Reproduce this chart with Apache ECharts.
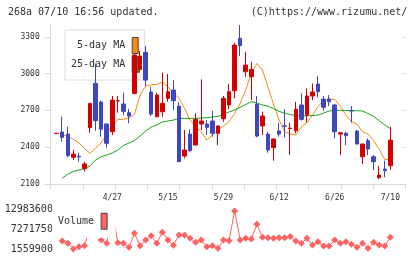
<!DOCTYPE html>
<html>
<head>
<meta charset="utf-8">
<script src="https://cdn.jsdelivr.net/npm/echarts@6/dist/echarts.min.js"></script>
<style>
  html, body { margin: 0; padding: 0; background: #fff; }
  #chart { width: 420px; height: 259px; }
</style>
</head>
<body>
<div id="chart"></div>
<script>
// trading days shown on the chart
const dates = [
  "4/14", "4/15", "4/16", "4/17", "4/18", "4/21", "4/22", "4/23", "4/24", "4/25",
  "4/27", "4/30", "5/1", "5/2", "5/7", "5/8", "5/9", "5/12", "5/13", "5/14",
  "5/15", "5/16", "5/19", "5/20", "5/21", "5/22", "5/23", "5/26", "5/27", "5/28",
  "5/29", "5/30", "6/2", "6/3", "6/4", "6/5", "6/6", "6/9", "6/10", "6/11",
  "6/12", "6/13", "6/16", "6/17", "6/18", "6/19", "6/20", "6/23", "6/24", "6/25",
  "6/26", "6/27", "6/30", "7/1", "7/2", "7/3", "7/4", "7/7", "7/8", "7/9",
  "7/10",
];
const opens = [
  2512, 2524, 2507, 2318, 2326, 2225, 2559, 2920, 2768, 2589,
  2526, 2776, 2752, 2681, 2839, 3034, 3173, 2850, 2648, 2689,
  2798, 2866, 2735, 2328, 2507, 2418, 2589, 2589, 2613, 2513,
  2632, 2744, 2860, 3287, 3015, 2974, 2749, 2573, 2507, 2396,
  2532, 2574, 2552, 2534, 2744, 2662, 2817, 2915, 2792, 2792,
  2744, 2507, 2513, 2699, 2532, 2322, 2453, 2322, 2151, 2222,
  2249,
];
const closes = [
  2513, 2480, 2331, 2344, 2320, 2263, 2757, 2616, 2546, 2432,
  2784, 2779, 2692, 2654, 3151, 3143, 2947, 2670, 2825, 2757,
  2852, 2779, 2282, 2377, 2371, 2627, 2613, 2562, 2513, 2573,
  2798, 2852, 3232, 3227, 3069, 3034, 2491, 2654, 2377, 2467,
  2507, 2571, 2555, 2709, 2627, 2817, 2850, 2852, 2725, 2770,
  2526, 2518, 2494, 2696, 2426, 2426, 2385, 2282, 2173, 2208,
  2458,
];
const lows = [
  2512, 2445, 2318, 2296, 2282, 2200, 2518, 2534, 2485, 2396,
  2499, 2681, 2662, 2595, 2830, 3007, 2898, 2654, 2645, 2648,
  2770, 2703, 2280, 2309, 2363, 2410, 2540, 2499, 2485, 2418,
  2608, 2709, 2798, 3143, 2974, 2784, 2480, 2499, 2355, 2290,
  2485, 2480, 2336, 2513, 2616, 2599, 2784, 2806, 2697, 2735,
  2472, 2336, 2418, 2599, 2424, 2263, 2336, 2214, 2141, 2155,
  2214,
];
const highs = [
  2513, 2648, 2567, 2377, 2355, 2282, 2760, 3083, 2780, 2595,
  2817, 2817, 2844, 2711, 3160, 3186, 3224, 2893, 2844, 3007,
  2996, 2947, 2770, 2540, 2546, 2676, 2953, 2621, 2697, 2575,
  2817, 2915, 3251, 3395, 3178, 3096, 2817, 2689, 2526, 2472,
  2599, 2709, 2599, 2770, 2839, 2880, 2920, 2980, 2817, 2825,
  2752, 2520, 2526, 2735, 2540, 2428, 2472, 2336, 2249, 2290,
  2567,
];
const ma5 = [
  null, 2499, 2491, 2463, 2436, 2389, 2350, 2393, 2434, 2507,
  2581, 2625, 2627, 2638, 2670, 2825, 2898, 2907, 2912, 2931,
  2893, 2839, 2798, 2717, 2621, 2567, 2526, 2458, 2499, 2540,
  2573, 2608, 2676, 2757, 2866, 3002, 3083, 3029, 2890, 2752,
  2621, 2526, 2507, 2499, 2567, 2599, 2662, 2730, 2784, 2792,
  2790, 2735, 2662, 2608, 2589, 2526, 2507, 2453, 2383, 2301,
  2296,
];
const ma25 = [
  null, 2146, 2181, 2202, 2214, 2226, 2247, 2296, 2322, 2336,
  2353, 2377, 2414, 2434, 2454, 2491, 2532, 2564, 2581, 2605,
  2613, 2621, 2634, 2635, 2635, 2635, 2638, 2640, 2646, 2650,
  2670, 2687, 2703, 2725, 2748, 2770, 2760, 2744, 2735, 2715,
  2692, 2678, 2666, 2658, 2656, 2656, 2658, 2662, 2678, 2695,
  2700, 2700, 2699, 2697, 2697, 2695, 2674, 2650, 2617, 2581,
  2552,
];
const volumes = [
  null, 3912700, 3260700, 1645000, 2297000, 2580000, 7881000, 10500000, 4196000, 3260700,
  12400000, 3430800, 3260700, 2126800, 6095400, 2580000, 4196000, 5415000, 3260700, 6378800,
  4196000, 2693800, 5613500, 5613500, 4678000, 3544200, 4196000, 2297000, 2580000, 1843400,
  4196000, 3997700, 12416600, 4196000, 4678000, 4479600, 8646500, 4961500, 4848100, 4678000,
  4848100, 4848100, 5188300, 3912700, 3260700, 4678000, 2778800, 3714200, 2495300, 2495300,
  4196000, 3260700, 3714200, 2977200, 2126800, 3260700, 1843400, 3544200, 2778800, 2495300,
  4961500,
];
const priceTicks = [2100, 2400, 2700, 3000, 3300];
const volumeTicks = [1559900, 7271750, 12983600];

const MONO = "DejaVu Sans Mono";
const AXIS_GRAY = "#d9d9d9";
const UP = "#d40000";
const DOWN = "#3f47c0";

const chartInstance = echarts.init(document.getElementById("chart"), null, {
  renderer: "canvas",
});

const candles = opens.map((o, i) => [o, closes[i], lows[i], highs[i]]);

const option = {
  animation: false,
  backgroundColor: "#fff",
  title: [
    {
      text: "268a 07/10 16:56 updated.",
      left: 8,
      top: 7,
      padding: 0,
      textStyle: { fontFamily: MONO, fontSize: 10, fontWeight: "normal", color: "#333" },
    },
    {
      text: "(C)https://www.rizumu.net/",
      right: 12.7,
      top: 7,
      padding: 0,
      textStyle: { fontFamily: MONO, fontSize: 10, fontWeight: "normal", color: "#333" },
    },
  ],
  legend: [
    {
      z: 1,
      orient: "vertical",
      align: "right",
      left: 65,
      top: 30,
      padding: [7, 6, 7, 6],
      itemGap: 2,
      itemWidth: 6,
      itemHeight: 16,
      selectedMode: false,
      backgroundColor: "#fff",
      borderColor: "#ddd",
      borderWidth: 1,
      formatter: (name) => name.padStart(9),
      textStyle: { fontFamily: MONO, fontSize: 10, color: "#333", padding: [0, 2, 0, 0] },
      data: [
        { name: "5-day MA", icon: "rect", itemStyle: { color: "#f28c12", borderColor: "#444", borderWidth: 1 } },
        { name: "25-day MA", icon: "rect", itemStyle: { color: "#18a418", borderColor: "#444", borderWidth: 1 } },
      ],
    },
    {
      z: 10,
      orient: "vertical",
      align: "right",
      left: 52,
      top: 204.7,
      padding: [8, 8, 8, 6],
      itemWidth: 6,
      itemHeight: 16,
      selectedMode: false,
      backgroundColor: "#fff",
      textStyle: { fontFamily: MONO, fontSize: 10, color: "#333", padding: [0, 2, 0, 0] },
      data: [
        { name: "Volume", icon: "rect", itemStyle: { color: "#ff6262", borderColor: "#444", borderWidth: 1 } },
      ],
    },
  ],
  grid: [
    { left: 50.7, right: 14.7, top: 24.5, bottom: 75 }, // axis frame
    { left: 53.9, right: 26.9, top: 24.5, bottom: 75 }, // candles
    { left: 53.9, right: 26.9, top: 209, bottom: 9.7 }, // volume
  ],
  xAxis: [
    {
      gridIndex: 0,
      type: "value",
      min: 0,
      max: 11,
      interval: 1,
      axisLine: { show: true, lineStyle: { color: AXIS_GRAY } },
      axisTick: { show: true, length: 5, lineStyle: { color: AXIS_GRAY } },
      axisLabel: { show: false },
      splitLine: { show: false },
    },
    {
      gridIndex: 1,
      type: "category",
      data: dates,
      boundaryGap: true,
      axisLine: { show: false },
      axisTick: { show: false },
      axisLabel: {
        interval: (i) => i > 0 && i % 10 === 0,
        margin: 10,
        fontFamily: MONO,
        fontSize: 8,
        color: "#333",
      },
    },
    {
      gridIndex: 2,
      type: "category",
      data: dates,
      boundaryGap: true,
      show: false,
    },
  ],
  yAxis: [
    {
      gridIndex: 0,
      type: "value",
      min: 2100,
      max: 3400,
      axisLine: { show: true, lineStyle: { color: AXIS_GRAY } },
      axisTick: { show: true, length: 6, customValues: priceTicks, lineStyle: { color: AXIS_GRAY } },
      axisLabel: {
        customValues: priceTicks,
        margin: 11,
        fontFamily: MONO,
        fontSize: 8,
        color: "#333",
        formatter: (v) => String(v),
      },
      splitLine: { show: false },
    },
    {
      gridIndex: 0,
      type: "value",
      min: 2100,
      max: 3400,
      axisLine: { show: false },
      axisTick: { show: true, inside: true, length: 3, customValues: priceTicks, lineStyle: { color: AXIS_GRAY } },
      axisLabel: { show: false },
      splitLine: { show: false },
    },
    { gridIndex: 1, type: "value", min: 2100, max: 3400, show: false },
    {
      gridIndex: 2,
      type: "value",
      min: 1559900,
      max: 12983600,
      axisLine: { show: false },
      axisTick: { show: false },
      axisLabel: {
        customValues: volumeTicks,
        margin: 1,
        fontFamily: MONO,
        fontSize: 10,
        color: "#333",
        formatter: (v) => String(v),
      },
      splitLine: { show: false },
    },
  ],
  series: [
    {
      name: "5-day MA",
      type: "line",
      xAxisIndex: 1,
      yAxisIndex: 2,
      z: 2,
      data: ma5,
      symbol: "none",
      itemStyle: { color: "#f28c12" },
      lineStyle: { width: 1, color: "#f28c12" },
    },
    {
      name: "25-day MA",
      type: "line",
      xAxisIndex: 1,
      yAxisIndex: 2,
      z: 2,
      data: ma25,
      symbol: "none",
      itemStyle: { color: "#18a418" },
      lineStyle: { width: 1, color: "#18a418" },
    },
    {
      name: "Price",
      type: "candlestick",
      xAxisIndex: 1,
      yAxisIndex: 2,
      z: 3,
      barWidth: 4,
      data: candles,
      itemStyle: {
        color: UP,
        color0: DOWN,
        borderColor: UP,
        borderColor0: DOWN,
        borderWidth: 1,
      },
    },
    {
      name: "Volume",
      type: "line",
      xAxisIndex: 2,
      yAxisIndex: 3,
      z: 2,
      data: volumes,
      connectNulls: false,
      showAllSymbol: true,
      symbol: "diamond",
      symbolSize: 7,
      itemStyle: { color: "#ff6262" },
      lineStyle: { width: 1, color: "#ff6262" },
    },
  ],
};

chartInstance.setOption(option);
</script>
</body>
</html>
